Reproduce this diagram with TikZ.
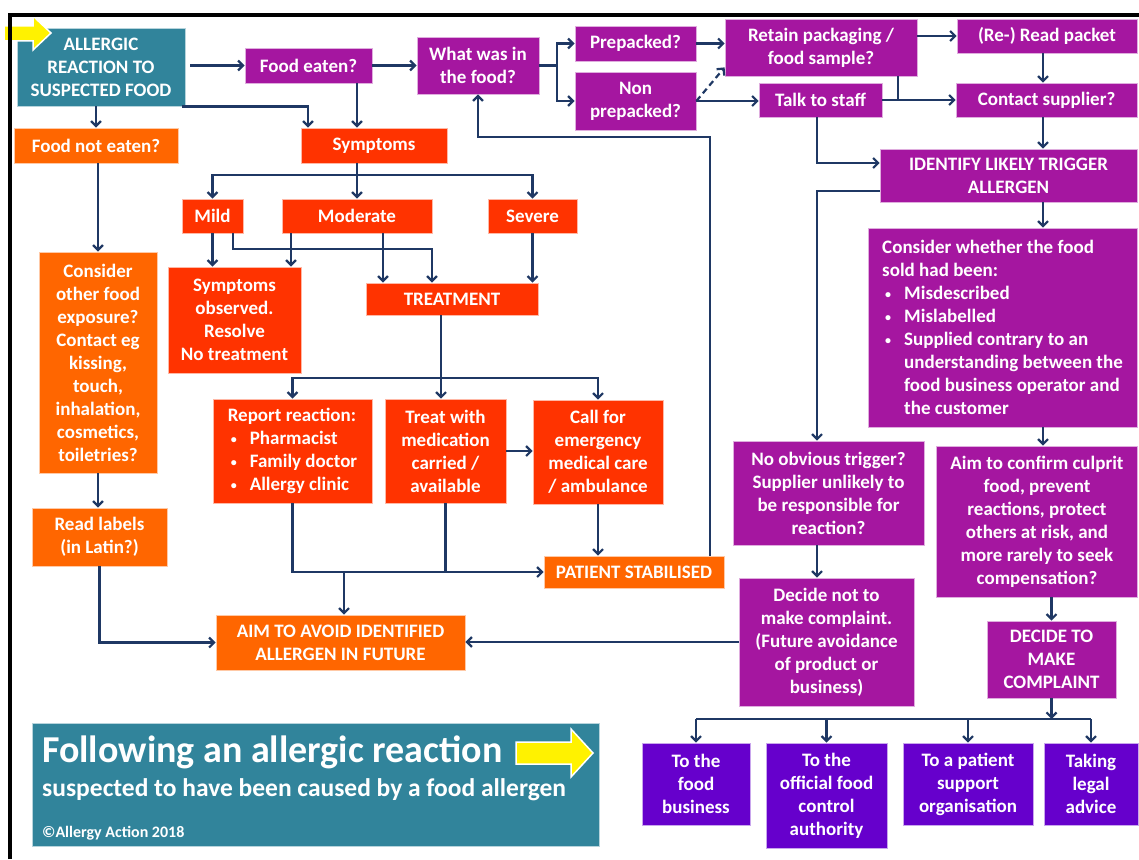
\documentclass[tikz,border=0pt]{standalone}
\usepackage{fontspec}
\setmainfont{Carlito}
\usetikzlibrary{arrows.meta}

\definecolor{allteal}{RGB}{49,132,155}
\definecolor{allpurple}{RGB}{165,22,160}
\definecolor{allorange}{RGB}{255,102,0}
\definecolor{allred}{RGB}{255,51,0}
\definecolor{allviolet}{RGB}{102,0,204}
\definecolor{allnavy}{RGB}{31,56,100}

\newcommand{\bulitem}{\makebox[22pt][l]{\hspace{3pt}\raisebox{1.5pt}{\fontsize{12}{12}\selectfont\textbullet}}}
\newcommand{\bulrest}{\hspace*{22pt}}

\tikzset{
  box/.style={fill=#1, draw=white!65!#1, line width=0.8pt, text=white,
    inner sep=0pt, align=center, font=\fontsize{19}{23}\selectfont\bfseries},
  flow/.style={draw=allnavy, line width=2.2pt, -{Straight Barb[length=5pt,width=10pt]}},
  link/.style={draw=allnavy, line width=2.2pt},
  bantext/.style={anchor=base west, inner sep=0pt, text=white},
}

\begin{document}
\begin{tikzpicture}[x=1pt, y=-1pt]
  \useasboundingbox (0,0) rectangle (1139,859);

  % top row
  \node[box=allteal, minimum width=168pt, minimum height=78pt] (start) at (101,67) {ALLERGIC\\REACTION TO\\SUSPECTED FOOD};
  \node[box=allpurple, minimum width=127pt, minimum height=35pt] (eaten) at (308.5,65.5) {Food eaten?};
  \node[box=allpurple, minimum width=122pt, minimum height=57pt] (what) at (478,65.5) {What was in\\the food?};
  \node[box=allpurple, minimum width=121pt, minimum height=35pt] (prepacked) at (635.5,43.5) {Prepacked?};
  \node[box=allpurple, minimum width=121pt, minimum height=58pt] (nonpre) at (635.5,101) {Non\\prepacked?};
  \node[box=allpurple, minimum width=192pt, minimum height=57pt] (retain) at (821,47.5) {Retain packaging /\\food sample?};
  \node[box=allpurple, minimum width=123pt, minimum height=34pt] (talk) at (820.5,100) {Talk to staff};
  \node[box=allpurple, minimum width=180pt, minimum height=34pt] (reread) at (1047,36) {(Re-) Read packet};
  \node[box=allpurple, minimum width=181pt, minimum height=34pt] (supplier) at (1046.5,100) {Contact supplier?};

  % right column
  \node[box=allpurple, minimum width=257pt, minimum height=53pt] (identify) at (1008.5,175.5) {IDENTIFY LIKELY TRIGGER\\ALLERGEN};
  \node[box=allpurple, minimum width=269pt, minimum height=199pt, align=left] (consider) at (1002.5,327.5)
    {Consider whether the food\\sold had been:\\\bulitem Misdescribed\\\bulitem Mislabelled\\\bulitem Supplied contrary to an\\\bulrest understanding between the\\\bulrest food business operator and\\\bulrest the customer};
  \node[box=allpurple, minimum width=191pt, minimum height=104pt] (notrig) at (828.5,493) {No obvious trigger?\\Supplier unlikely to\\be responsible for\\reaction?};
  \node[box=allpurple, minimum width=201pt, minimum height=151pt] (confirm) at (1037,521.5) {Aim to confirm culprit\\food, prevent\\reactions, protect\\others at risk, and\\more rarely to seek\\compensation?};
  \node[box=allpurple, minimum width=175pt, minimum height=128pt] (nocomp) at (826.5,642) {Decide not to\\make complaint.\\(Future avoidance\\of product or\\business)};
  \node[box=allpurple, minimum width=129pt, minimum height=77pt] (decide) at (1051.5,659.5) {DECIDE TO\\MAKE\\COMPLAINT};
  \node[box=allviolet, minimum width=108pt, minimum height=82pt] (foodbiz) at (696,784) {To the\\food\\business};
  \node[box=allviolet, minimum width=121pt, minimum height=105pt] (official) at (826.5,795.5) {To the\\official food\\control\\authority};
  \node[box=allviolet, minimum width=130pt, minimum height=82pt] (patient) at (968,784) {To a patient\\support\\organisation};
  \node[box=allviolet, minimum width=94pt, minimum height=82pt] (legal) at (1091,784) {Taking\\legal\\advice};

  % left column
  \node[box=allorange, minimum width=164pt, minimum height=35pt] (noteaten) at (96,145.5) {Food not eaten?};
  \node[box=allorange, minimum width=118pt, minimum height=221pt] (other) at (98,362.5) {Consider\\other food\\exposure?\\Contact eg\\kissing,\\touch,\\inhalation,\\cosmetics,\\toiletries?};
  \node[box=allorange, minimum width=135pt, minimum height=58pt] (labels) at (99.5,537) {Read labels\\(in Latin?)};
  \node[box=allorange, minimum width=249pt, minimum height=55pt] (avoid) at (340.5,642.5) {AIM TO AVOID IDENTIFIED\\ALLERGEN IN FUTURE};

  % symptoms and treatment
  \node[box=allred, minimum width=146pt, minimum height=35pt] (symptoms) at (374,145.5) {Symptoms};
  \node[box=allred, minimum width=61pt, minimum height=34pt] (mild) at (212.5,216) {Mild};
  \node[box=allred, minimum width=150pt, minimum height=34pt] (moderate) at (357,216) {Moderate};
  \node[box=allred, minimum width=89pt, minimum height=34pt] (severe) at (532.5,216) {Severe};
  \node[box=allred, minimum width=133pt, minimum height=106pt] (observed) at (234.5,320) {Symptoms\\observed.\\Resolve\\No treatment};
  \node[box=allred, minimum width=172pt, minimum height=32pt] (treatment) at (452,299) {TREATMENT};
  \node[box=allred, minimum width=159pt, minimum height=104pt, align=left] (report) at (292.5,451)
    {Report reaction:\\\bulitem Pharmacist\\\bulitem Family doctor\\\bulitem Allergy clinic};
  \node[box=allred, minimum width=121pt, minimum height=104pt] (treat) at (445.5,451) {Treat with\\medication\\carried /\\available};
  \node[box=allred, minimum width=130pt, minimum height=104pt] (call) at (598,452) {Call for\\emergency\\medical care\\/ ambulance};
  \node[box=allorange, minimum width=180pt, minimum height=32pt] (stabilised) at (634,572) {PATIENT STABILISED};

  % banner
  \node[fill=allteal, draw=white!65!allteal, line width=0.8pt, minimum width=567pt, minimum height=123pt, inner sep=0pt] (banner) at (315.5,784.5) {};
  \node[bantext, font=\fontsize{38}{40}\selectfont\bfseries] (bantitle) at (42,762) {Following an allergic reaction};
  \node[bantext, font=\fontsize{25.5}{28}\selectfont\bfseries] (bansub) at (42,796) {suspected to have been caused by a food allergen};
  \node[bantext, font=\fontsize{16}{18}\selectfont\bfseries] (bancopy) at (42,837) {\textcopyright Allergy Action 2018};
  \draw[fill=yellow, draw=white, line width=1.5pt] (516,742) -- (571,742) -- (571,729) -- (593,753) -- (571,777) -- (571,764) -- (516,764) -- cycle;

  % helper points for the lines
  \coordinate (s1) at (308,0);
  \coordinate (s3) at (357,175);
  \coordinate (m2) at (233,249);
  \coordinate (md1) at (291,0);
  \coordinate (md2) at (383,0);
  \coordinate (t2) at (441,378);
  \coordinate (a1) at (344,0);
  \coordinate (s4) at (710,137);
  \coordinate (w1) at (557,0);
  \coordinate (r3) at (898,0);
  \coordinate (col) at (1043,0);
  \coordinate (i1) at (817,163);
  \coordinate (i2) at (817,191);
  \coordinate (d1) at (1051,719);

  % top row
  \draw[flow] ([xshift=5pt]start.east |- eaten.west) -- (eaten.west);
  \draw[flow] (eaten.east) -- (what.west |- eaten.east);
  \draw[flow] ([xshift=-3pt]start.south east) -| (s1 |- symptoms.north);
  \draw[flow] (s3 |- eaten.south) -- (s3 |- symptoms.north);
  \draw[flow] (what.east) -- (w1 |- what.east) |- (prepacked.west);
  \draw[flow] (w1 |- what.east) |- (nonpre.west);
  \draw[flow] (prepacked.east) -- (retain.west |- prepacked.east);
  \draw[flow, dash pattern=on 6pt off 4pt] (nonpre.east) -- ([yshift=9pt]retain.south west);
  \draw[flow] (nonpre.east) -- (talk.west |- nonpre.east);
  \draw[flow] (retain.east |- reread.west) -- (reread.west);
  \draw[link] (r3 |- retain.south) -- (r3 |- talk.east);
  \draw[flow] (talk.east) -- (supplier.west |- talk.east);
  \draw[flow] (col |- reread.south) -- (col |- supplier.north);
  \draw[flow] (col |- supplier.south) -- (col |- identify.north);

  % right column
  \draw[flow] (i1 |- talk.south) -- (i1) -- (i1 -| identify.west);
  \draw[flow] (i2 -| identify.west) -- (i2) -- (i2 |- notrig.north);
  \draw[flow] (col |- identify.south) -- (col |- consider.north);
  \draw[flow] (col |- consider.south) -- (col |- confirm.north);
  \draw[flow] (i2 |- notrig.south) -- (i2 |- nocomp.north);
  \draw[flow] (nocomp.west) -- (avoid.east |- nocomp.west);
  \draw[flow] (decide.north |- confirm.south) -- (decide.north);
  \draw[flow] (decide.south) -- (decide.south |- d1);
  \draw[link] (d1 -| foodbiz.north) -- (d1 -| legal.north);
  \draw[flow] (d1 -| foodbiz.north) -- (foodbiz.north);
  \draw[flow] (d1 -| official.north) -- (official.north);
  \draw[flow] (d1 -| patient.north) -- (patient.north);
  \draw[flow] (d1 -| legal.north) -- (legal.north);

  % left column
  \draw[flow] (noteaten.north |- start.south) -- (noteaten.north);
  \draw[flow] (other.north |- noteaten.south) -- (other.north);
  \draw[flow] (other.south) -- (other.south |- labels.north);
  \draw[flow] (labels.south) |- (avoid.west);

  % symptoms and treatment
  \draw[link] (s3 |- symptoms.south) -- (s3);
  \draw[flow] (s3) -| (mild.north);
  \draw[flow] (s3) -- (moderate.north);
  \draw[flow] (s3) -| (severe.north);
  \draw[flow] (mild.south) -- (mild.south |- observed.north);
  \draw[flow] (m2 |- mild.south) -- (m2) -| ([xshift=-20pt]treatment.north);
  \draw[flow] (md1 |- moderate.south) -- (md1 |- observed.north);
  \draw[flow] (md2 |- moderate.south) -- (md2 |- treatment.north);
  \draw[flow] (severe.south) -- (severe.south |- treatment.north);
  \draw[link] (t2 |- treatment.south) -- (t2);
  \draw[flow] (t2) -| (report.north);
  \draw[flow] (t2) -- (t2 |- treat.north);
  \draw[flow] (t2) -| (call.north);
  \draw[flow] (treat.east) -- (call.west |- treat.east);
  \draw[flow] (call.south) -- (call.south |- stabilised.north);
  \draw[flow] (report.south) |- (stabilised.west);
  \draw[link] (treat.south) -- (treat.south |- stabilised.west);
  \draw[flow] (a1 |- stabilised.west) -- (a1 |- avoid.north);
  \draw[flow] (s4 |- stabilised.north) -- (s4) -| (what.south);

  % start arrow and frame
  \draw[fill=yellow, draw=white, line width=1.5pt] (4,26) -- (33,26) -- (33,16) -- (51,33) -- (33,50) -- (33,41) -- (4,41) -- cycle;
  \draw[line width=4pt] (9.5,859) -- (9.5,15) -- (1139,15);
\end{tikzpicture}
\end{document}
